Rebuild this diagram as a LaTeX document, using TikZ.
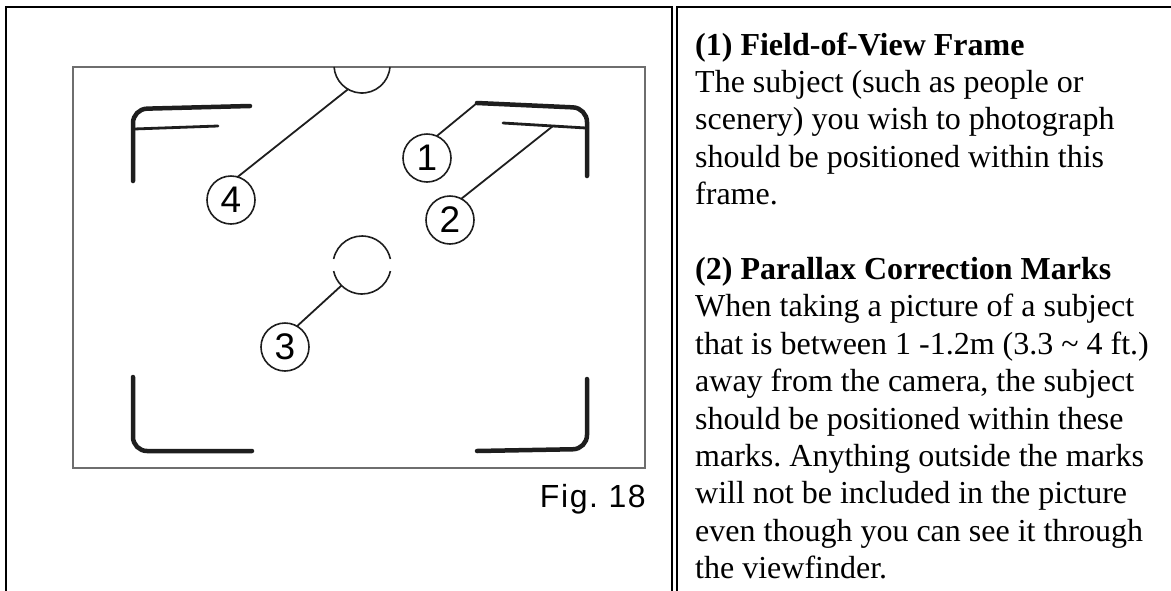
\documentclass[tikz,border=0pt]{standalone}
\usepackage{fontspec}
\setmainfont{Liberation Serif}
\newfontfamily\numfont{Liberation Sans}
\newfontfamily\figfont[LetterSpace=5]{Liberation Sans}
\definecolor{ink}{HTML}{1E1E1E}
\definecolor{scan}{HTML}{6E6E6E}
\frenchspacing

\tikzset{
  cellline/.style={line width=2.2pt, black},
  markline/.style={line width=4.5pt, ink, line cap=round, rounded corners=14pt},
  thinmark/.style={line width=2.8pt, ink, line cap=round},
  leader/.style={line width=1.8pt, ink},
  num/.style={circle, draw=ink, line width=1.6pt, minimum size=48pt, inner sep=0pt, outer sep=0pt,
    font=\numfont\fontsize{37}{37}\selectfont},
  ring/.style={circle, minimum size=#1, inner sep=0pt, outer sep=0pt},
}

\begin{document}
\begin{tikzpicture}[x=1pt, y=-1pt]
	\useasboundingbox (0,0) rectangle (1171,590);
	\clip (0,0) rectangle (1171,590);

	% Table cells
	\draw[cellline] (6,600) -- (6,7) -- (672,7) -- (672,600);
	\draw[cellline] (677,600) -- (677,7) -- (1180,7);

	% Viewfinder frame
	\draw[scan, line width=1.5pt] (73,67) rectangle (645,468);
	\node[anchor=east, inner sep=0pt, font=\figfont\fontsize{32}{32}\selectfont] (fig) at (646,499) {Fig. 18};

	% Corner marks
	\coordinate (p1) at (477,103);
	\coordinate (p2) at (553,126);
	\draw[markline] (133,181) -- (133,109) -- (250,106);
	\draw[thinmark] (134,129) -- (218,126); % inner line top left
	\draw[markline] (p1) -- (587,108) -- (587,176);
	\draw[thinmark] (503,123) -- (586,128); % inner line top right
	\draw[markline] (133,377) -- (133,451) -- (252,451);
	\draw[markline] (477,451) -- (587,449) -- (587,379);

	% Circles
	\node[ring=56pt] (tc) at (362,65) {};
	\draw[ink, line width=1.6pt] (tc) ++(4:28) arc (4:176:28);
	\node[ring=58pt] (cc) at (362,265) {};
	\draw[ink, line width=1.6pt] (cc) ++(12:29) arc (12:168:29);
	\draw[ink, line width=1.6pt] (cc) ++(192:29) arc (192:348:29);

	% Numbers
	\node[num] (n1) at (427,158) {1};
	\node[num] (n2) at (450,220) {2};
	\node[num] (n3) at (285,347) {3};
	\node[num] (n4) at (231,200) {4};

	% Leader lines
	\draw[leader] (n1.66) -- (p1);
	\draw[leader] (n2.62) -- (p2);
	\draw[leader] (n3.60) -- (cc.225);
	\draw[leader] (n4.74) -- (tc.240);

	% Description
	\node[anchor=north west, inner sep=0pt, align=left, font=\fontsize{32}{37.4}\selectfont] (desc) at (695,28.8) {%
		\strut\textbf{(1) Field-of-View Frame}\\
		The subject (such as people or\\
		scenery) you wish to photograph\\
		should be positioned within this\\
		frame.\\[37.4pt]
		\textbf{(2) Parallax Correction Marks}\\
		When taking a picture of a subject\\
		that is between 1 -1.2m (3.3 \textasciitilde\ 4 ft.)\\
		away from the camera, the subject\\
		should be positioned within these\\
		marks. Anything outside the marks\\
		will not be included in the picture\\
		even though you can see it through\\
		the viewfinder.};
\end{tikzpicture}
\end{document}
